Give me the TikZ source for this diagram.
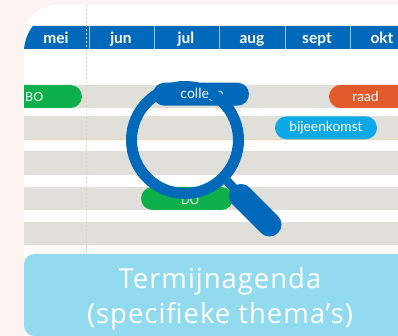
\documentclass[tikz,border=0pt]{standalone}
\usepackage{fontspec}
\setmainfont{Lato}
\newfontfamily\titlefont[LetterSpace=3.5]{Open Sans}
\definecolor{bgpink}{RGB}{253,244,241}
\definecolor{hblue}{RGB}{0,105,185}
\definecolor{rowgray}{RGB}{224,223,218}
\definecolor{pgreen}{RGB}{13,176,75}
\definecolor{porange}{RGB}{226,89,42}
\definecolor{pcyan}{RGB}{12,168,232}
\definecolor{boxblue}{RGB}{146,218,238}
\definecolor{dashtan}{RGB}{232,214,170}
\definecolor{sepblue}{RGB}{150,200,232}
\tikzset{
  x=1pt,y=-1pt,
  rowbar/.style={fill=rowgray,draw=none},
  month/.style={text=white,font=\bfseries\fontsize{15.5}{17}\selectfont,inner sep=0pt,anchor=base},
  pill/.style={rounded corners=11.5pt,draw=none,inner sep=0pt,minimum height=23pt,shape=rectangle},
  pilltext/.style={text=white,inner sep=0pt,font=\fontsize{13.8}{15}\selectfont},
  guide/.style={dashtan,line width=0.8pt,dash pattern=on 2.5pt off 1.5pt},
  ring/.style={draw=hblue,line width=11pt,fill=none,circle,minimum size=107pt,inner sep=0pt}
}
\begin{document}
\begin{tikzpicture}
\clip (0,0) rectangle (398,336);
\fill[bgpink] (0,0) rectangle (398,336);
% white sheet
\fill[white] (24,336) -- (24,38) arc[start angle=180,end angle=90,x radius=33,y radius=-33] -- (398,5) -- (398,336) -- cycle;
% rows
\foreach \a/\b in {85/108,116/140,151/175,187/210,222/245}{
  \fill[rowbar] (24,\a) rectangle (398,\b);
}
\fill[bgpink!40!white] (24,245) rectangle (398,254);
% header
\fill[hblue] (24,49) .. controls (25,40) and (28,32) .. (33,26) -- (398,26) -- (398,49) -- cycle;
\foreach \s in {89,154,219.5,285,350.5}{
  \draw[sepblue,line width=0.8pt] (\s,26) -- (\s,49);
}
\node[month] (mei) at (56,43.5) {mei};
\node[month] (jun) at (121,43.5) {jun};
\node[month] (jul) at (186,43.5) {jul};
\node[month] (aug) at (252,43.5) {aug};
\node[month] (sept) at (317,43.5) {sept};
\node[month] (okt) at (382,43.5) {okt};
% guides
\draw[guide] (86,5) -- (86,254);
\draw[guide,line width=0.5pt] (24,139.5) -- (398,139.5);
% pills
\fill[pgreen] (24,85) -- (70.5,85) arc[start angle=90,end angle=-90,radius=11.5,y radius=-11.5] -- (24,108) -- cycle;
\node[pilltext,font=\fontsize{12.5}{14}\selectfont,anchor=west] (bo) at (25,97) {BO};
\node[pill,fill=porange,minimum width=90pt] (raad) at (374,96.5) {};
\node[pilltext] (raadtext) at (365.5,96) {raad};
\node[pill,fill=pcyan,minimum width=102pt] (bijeen) at (326,127.8) {};
\node[pilltext] (bijeentext) at (326,127.5) {bijeenkomst};
\node[pill,fill=pgreen,minimum width=92pt] (do) at (187,198.5) {};
\node[pilltext,font=\fontsize{11.5}{13}\selectfont] (dotext) at (190,200) {DO};
% magnifier
\node[ring] (lens) at (185,140) {};
\coordinate (neck) at (227,181);
\coordinate (hs) at (241,196);
\coordinate (he) at (269.5,224.5);
\draw[hblue,line width=9pt] (neck) -- (hs);
\draw[hblue,line width=24pt,line cap=round] (hs) -- (he);
% college pill above the ring
\node[pill,fill=hblue,minimum width=96pt,minimum height=23pt] (college) at (201,94.2) {};
\node[pilltext,font=\fontsize{14}{15}\selectfont,anchor=base] (collegetext) at (202,98.5) {college};
% the ring passes over the end of the word
\begin{scope}
\clip (209,80) rectangle (250,112);
\node[ring] (lenstop) at (185,140) {};
\end{scope}
% title box
\fill[boxblue] (398,254) -- (34,254) arc[start angle=90,end angle=180,radius=10,y radius=-10] -- (24,326) arc[start angle=180,end angle=270,radius=10,y radius=-10] -- (398,336) -- cycle;
\node[text=white,font=\titlefont\fontsize{27.5}{35}\selectfont,align=center,inner sep=0pt] (title) at (220,298.5) {Termijnagenda\\(specifieke thema’s)};
\end{tikzpicture}
\end{document}
